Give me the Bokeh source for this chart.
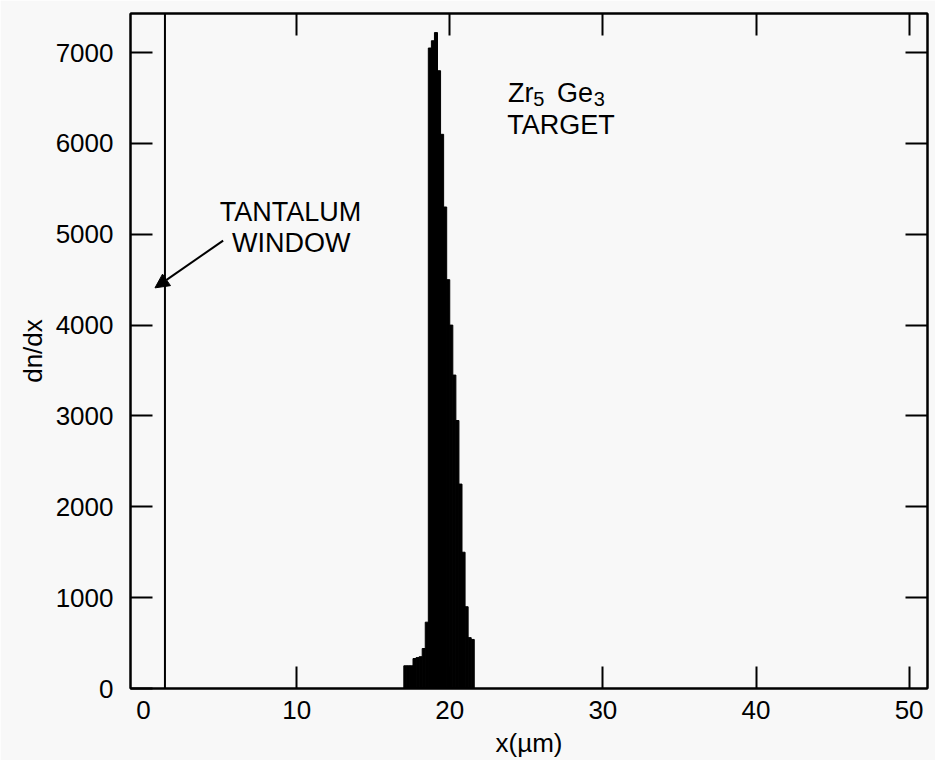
from bokeh.plotting import figure
from bokeh.models import LinearAxis, FixedTicker, Arrow, NormalHead, Range1d
from bokeh.embed import file_html
from bokeh.resources import INLINE
from bokeh.core.properties import value

# ---- data ----
bin_left = [17.0, 17.2, 17.4, 17.6, 17.8, 18.0, 18.2, 18.4, 18.6, 18.8, 19.0, 19.2,
            19.4, 19.6, 19.8, 20.0, 20.2, 20.4, 20.6, 20.8, 21.0, 21.2, 21.4]
bin_width = 0.2
dn_dx = [250, 250, 250, 330, 340, 350, 440, 730, 7050, 7130, 7220, 6800,
         6100, 5300, 4500, 4000, 3450, 2950, 2250, 1500, 900, 560, 540]
window_x = [1.4]          # tantalum window (off-scale line)
x_ticks = [0, 10, 20, 30, 40, 50]
x_inner_ticks = [10, 20, 30, 40, 50]
y_ticks = [0, 1000, 2000, 3000, 4000, 5000, 6000, 7000]
y_inner_ticks = [1000, 2000, 3000, 4000, 5000, 6000, 7000]
x_min, x_max = -0.85, 51.2
y_min, y_max = 0, 7430

FONT = "Liberation Sans"
BG = "#f8f8f8"
FS = "26px"
FS_ANN = "27px"

p = figure(width=935, height=760,
           x_range=Range1d(x_min, x_max), y_range=Range1d(y_min, y_max),
           output_backend="svg", toolbar_location=None,
           x_axis_type=None, y_axis_type=None,
           min_border_left=130, min_border_right=8, min_border_top=13, min_border_bottom=72,
           background_fill_color=BG, border_fill_color=BG)
p.outline_line_color = "black"
p.outline_line_width = 2


def tick_only_axis(ticks):
    ax = LinearAxis(ticker=FixedTicker(ticks=ticks))
    ax.major_tick_in = 22
    ax.major_tick_out = 0
    ax.minor_tick_line_color = None
    ax.major_tick_line_width = 2
    ax.major_tick_line_color = "black"
    ax.axis_line_width = 2
    ax.axis_line_color = "black"
    ax.major_label_text_font_size = "0px"
    ax.major_label_standoff = 0
    ax.major_label_overrides = {t: "" for t in ticks}
    return ax


# bottom: ticks (no tick at 0), then labels
p.add_layout(tick_only_axis(x_inner_ticks), "below")
xl = LinearAxis(ticker=FixedTicker(ticks=x_ticks), axis_label="x(µm)")
xl.major_tick_in = 0
xl.major_tick_out = 0
xl.minor_tick_line_color = None
xl.major_tick_line_color = None
xl.axis_line_color = None
xl.major_label_standoff = 12
xl.major_label_text_font = FONT
xl.major_label_text_font_size = FS
xl.major_label_text_color = "black"
xl.axis_label_text_font = FONT
xl.axis_label_text_font_size = FS
xl.axis_label_text_font_style = "normal"
xl.axis_label_text_color = "black"
xl.axis_label_standoff = 6
p.add_layout(xl, "below")

# left axis with labels
yl = LinearAxis(ticker=FixedTicker(ticks=y_ticks), axis_label="dn/dx")
yl.major_tick_in = 22
yl.major_tick_out = 0
yl.minor_tick_line_color = None
yl.major_tick_line_width = 2
yl.major_tick_line_color = "black"
yl.axis_line_width = 2
yl.axis_line_color = "black"
yl.major_label_standoff = 17
yl.major_label_text_font = FONT
yl.major_label_text_font_size = FS
yl.major_label_text_color = "black"
yl.axis_label_text_font = FONT
yl.axis_label_text_font_size = FS
yl.axis_label_text_font_style = "normal"
yl.axis_label_text_color = "black"
yl.axis_label_standoff = 5
p.add_layout(yl, "left")

p.add_layout(tick_only_axis(x_inner_ticks), "above")
p.add_layout(tick_only_axis(y_inner_ticks), "right")

# histogram of the target
bin_right = [b + bin_width for b in bin_left]
p.quad(left=bin_left, right=bin_right, bottom=[0] * len(dn_dx), top=dn_dx,
       fill_color="black", line_color="black", line_width=1)

# tantalum window line
p.segment(x0=window_x, y0=[y_min], x1=window_x, y1=[y_max], line_color="black", line_width=2)

# annotations
p.text(x=[9.6, 9.65], y=[5250, 4900], text=["TANTALUM", "WINDOW"],
       text_font=value(FONT), text_font_size=FS_ANN, text_color="black",
       text_align="center", text_baseline="middle")
p.add_layout(Arrow(end=NormalHead(size=14, fill_color="black", line_color="black"),
                   x_start=5.2, y_start=4930, x_end=0.75, y_end=4410,
                   line_color="black", line_width=2))

p.text(x=[23.8, 27.0], y=[6560, 6560], text=["Zr", "Ge"],
       text_font=value(FONT), text_font_size=FS_ANN, text_color="black",
       text_align="left", text_baseline="alphabetic")
p.text(x=[25.45, 29.4], y=[6490, 6490], text=["5", "3"],
       text_font=value(FONT), text_font_size="20px", text_color="black",
       text_align="left", text_baseline="alphabetic")
p.text(x=[23.75], y=[6200], text=["TARGET"],
       text_font=value(FONT), text_font_size=FS_ANN, text_color="black",
       text_align="left", text_baseline="alphabetic")

open("out.html", "w").write(file_html(p, INLINE))
